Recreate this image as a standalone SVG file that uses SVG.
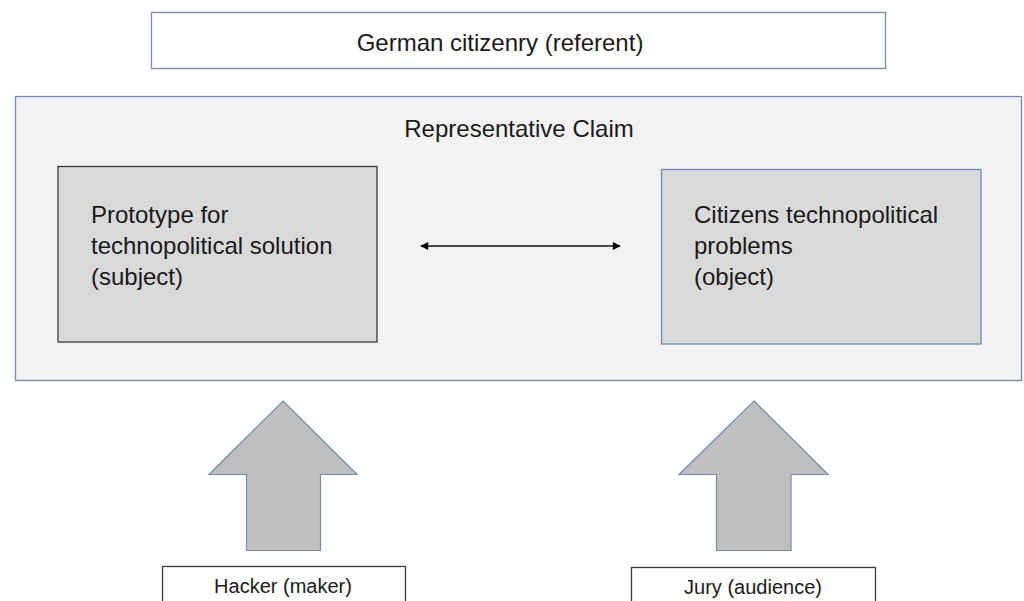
<svg xmlns="http://www.w3.org/2000/svg" width="1024" height="601" viewBox="0 0 1024 601">
<defs>
<style>
text{font-family:"Liberation Sans",Arial,sans-serif;fill:#1a1a1a}
.big{font-size:24px}
.small{font-size:20px}
.blue{stroke:#6f8db5;stroke-width:1.3}
.dark{stroke:#3a3a3a;stroke-width:1.3}
.fat{fill:#bfbfbf;stroke:#6f8db5;stroke-width:1.2;stroke-linejoin:miter}
</style>
<marker id="ah" viewBox="0 0 10 10" refX="9" refY="5" markerWidth="10" markerHeight="8" markerUnits="userSpaceOnUse" orient="auto-start-reverse">
<path d="M0,0 L10,5 L0,10 z" fill="#000"/>
</marker>
</defs>
<rect width="1024" height="601" fill="#fff"/>
<g id="referent">
<rect x="151.5" y="12.5" width="734" height="56" fill="#fff" class="blue"/>
<text class="big" x="500" y="51" text-anchor="middle">German citizenry (referent)</text>
</g>
<g id="claim">
<rect x="15.5" y="96.5" width="1006" height="284" fill="#f2f2f2" class="blue"/>
<text class="big" x="519" y="137" text-anchor="middle">Representative Claim</text>
</g>
<g id="subject">
<rect x="58" y="166.5" width="319" height="175.5" fill="#d9d9d9" class="dark"/>
<text class="big" x="91" y="223">Prototype for</text>
<text class="big" x="91" y="254">technopolitical solution</text>
<text class="big" x="91" y="285">(subject)</text>
</g>
<g id="object">
<rect x="661.5" y="169.5" width="319.5" height="174.5" fill="#d9d9d9" class="blue"/>
<text class="big" x="694" y="223">Citizens technopolitical</text>
<text class="big" x="694" y="254">problems</text>
<text class="big" x="694" y="285">(object)</text>
</g>
<g id="maker-arrow">
<polygon class="fat" points="283,401 357,474.5 320.5,474.5 320.5,550.5 246.5,550.5 246.5,474.5 209,474.5"/>
</g>
<g id="audience-arrow">
<polygon class="fat" points="754,401 828,474.5 791,474.5 791,550.5 716.5,550.5 716.5,474.5 679,474.5"/>
</g>
<g id="hacker">
<rect x="162.5" y="566.5" width="243" height="40" fill="#fff" class="dark"/>
<text class="small" x="283" y="593" text-anchor="middle">Hacker (maker)</text>
</g>
<g id="jury">
<rect x="631.5" y="567.5" width="244" height="40" fill="#fff" class="dark"/>
<text class="small" x="753" y="594" text-anchor="middle">Jury (audience)</text>
</g>
<g id="connectors">
<line x1="421" y1="246" x2="620" y2="246" stroke="#111" stroke-width="1.6" marker-start="url(#ah)" marker-end="url(#ah)"/>
</g>
</svg>
